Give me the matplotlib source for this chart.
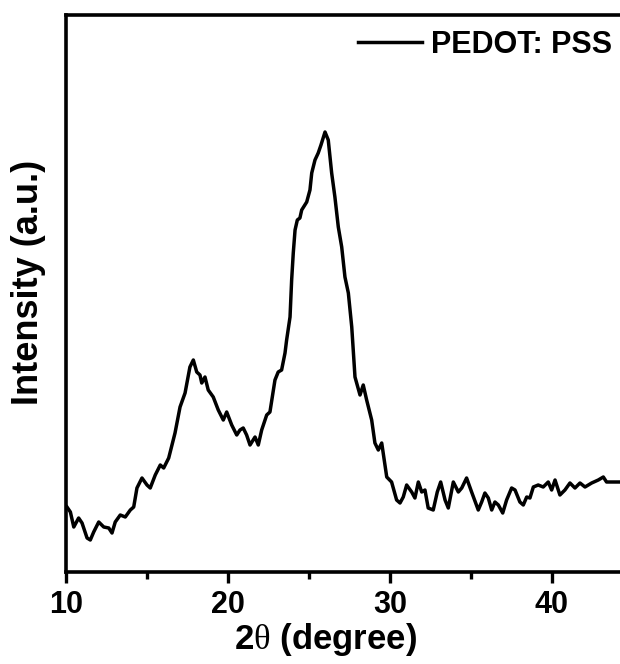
import numpy as np
import matplotlib
matplotlib.use('Agg')
import matplotlib.pyplot as plt

plt.rcParams['font.family'] = ['Liberation Sans', 'DejaVu Sans']
plt.rcParams['font.weight'] = 'bold'
plt.rcParams['mathtext.fontset'] = 'custom'
plt.rcParams['mathtext.rm'] = 'Liberation Serif:weight=normal'

# XRD pattern of PEDOT:PSS (2theta in degree, intensity a.u.)
two_theta = [10.06, 10.27, 10.48, 10.78, 10.99, 11.30, 11.50, 11.71, 12.02, 12.33,
             12.64, 12.84, 13.04, 13.35, 13.66, 13.97, 14.18, 14.38, 14.69, 15.00,
             15.20, 15.51, 15.82, 16.03, 16.34, 16.73, 17.04, 17.35, 17.65, 17.86,
             18.07, 18.27, 18.38, 18.58, 18.78, 19.09, 19.40, 19.71, 19.92, 20.23,
             20.54, 20.74, 20.94, 21.15, 21.36, 21.67, 21.87, 22.08, 22.39, 22.59,
             22.90, 23.10, 23.31, 23.52, 23.62, 23.83, 23.93, 24.03, 24.14, 24.28,
             24.44, 24.55, 24.86, 25.06, 25.17, 25.37, 25.57, 25.74, 25.99, 26.19,
             26.40, 26.60, 26.81, 27.02, 27.22, 27.43, 27.64, 27.84, 28.15, 28.35,
             28.56, 28.87, 29.07, 29.28, 29.49, 29.80, 30.10, 30.41, 30.62, 30.82,
             31.03, 31.34, 31.54, 31.75, 31.96, 32.16, 32.36, 32.67, 32.92, 33.13,
             33.40, 33.60, 33.91, 34.22, 34.43, 34.73, 35.04, 35.45, 35.66, 35.86,
             36.07, 36.28, 36.48, 36.69, 36.96, 37.20, 37.51, 37.72, 38.02, 38.23,
             38.44, 38.64, 38.85, 39.15, 39.46, 39.77, 39.98, 40.19, 40.49, 40.80,
             41.11, 41.42, 41.73, 42.04, 42.45, 42.86, 43.17, 43.37, 43.78, 44.20]
intensity = [65, 60, 45, 54, 49, 34, 32, 40, 50, 45,
             44, 39, 50, 57, 55, 62, 65, 84, 94, 87,
             84, 97, 107, 104, 114, 139, 165, 179, 205, 212,
             200, 197, 189, 195, 182, 175, 162, 152, 160, 147,
             137, 142, 144, 137, 127, 135, 127, 142, 157, 160,
             192, 200, 202, 219, 232, 255, 292, 319, 342, 352,
             354, 362, 370, 382, 399, 412, 419, 427, 440, 432,
             399, 375, 345, 325, 295, 279, 245, 195, 177, 187,
             172, 152, 129, 122, 129, 95, 90, 72, 69, 75,
             87, 80, 74, 90, 80, 82, 64, 62, 80, 90,
             72, 64, 90, 80, 84, 94, 80, 62, 70, 79,
             74, 62, 70, 67, 59, 72, 84, 82, 70, 67,
             75, 74, 85, 87, 85, 90, 82, 92, 77, 82,
             89, 84, 89, 85, 89, 92, 95, 90, 90, 90]
label = 'PEDOT: PSS'

fig = plt.figure(figsize=(6.2, 6.64), dpi=100)
ax = fig.add_axes([66/620, 1 - 572/664, 1 - 66/620, (572 - 15)/664])

ax.plot(two_theta, intensity, color='black', linewidth=2.5, label=label)

ax.set_xlim(10, 44.2)
ax.set_ylim(0, 557)
ax.set_xticks([10, 20, 30, 40])
ax.set_xticks([15, 25, 35], minor=True)
ax.set_yticks([])
ax.tick_params(axis='x', which='major', direction='out', length=8, width=2.4,
               labelsize=22, pad=5)
ax.tick_params(axis='x', which='minor', direction='out', length=5, width=2.4)
for lbl in ax.get_xticklabels():
    lbl.set_fontweight('bold')

for side in ['left', 'top', 'bottom']:
    ax.spines[side].set_linewidth(2.6)
ax.spines['right'].set_visible(False)

ax.set_xlabel(r'2$\mathrm{\theta}$ (degree)', fontsize=25, fontweight='bold')
ax.set_ylabel('Intensity (a.u.)', fontsize=26, fontweight='bold')
ax.xaxis.set_label_coords(0.469, -0.088)
ax.yaxis.set_label_coords(-0.036, 0.519)

leg = ax.legend(loc='center left', bbox_to_anchor=(358/620, 1 - 45/664),
                bbox_transform=fig.transFigure, frameon=False, fontsize=22,
                handlelength=2.1, handletextpad=0.3, borderpad=0, borderaxespad=0)
for t in leg.get_texts():
    t.set_fontweight('bold')

fig.savefig('out.png', dpi=100)
